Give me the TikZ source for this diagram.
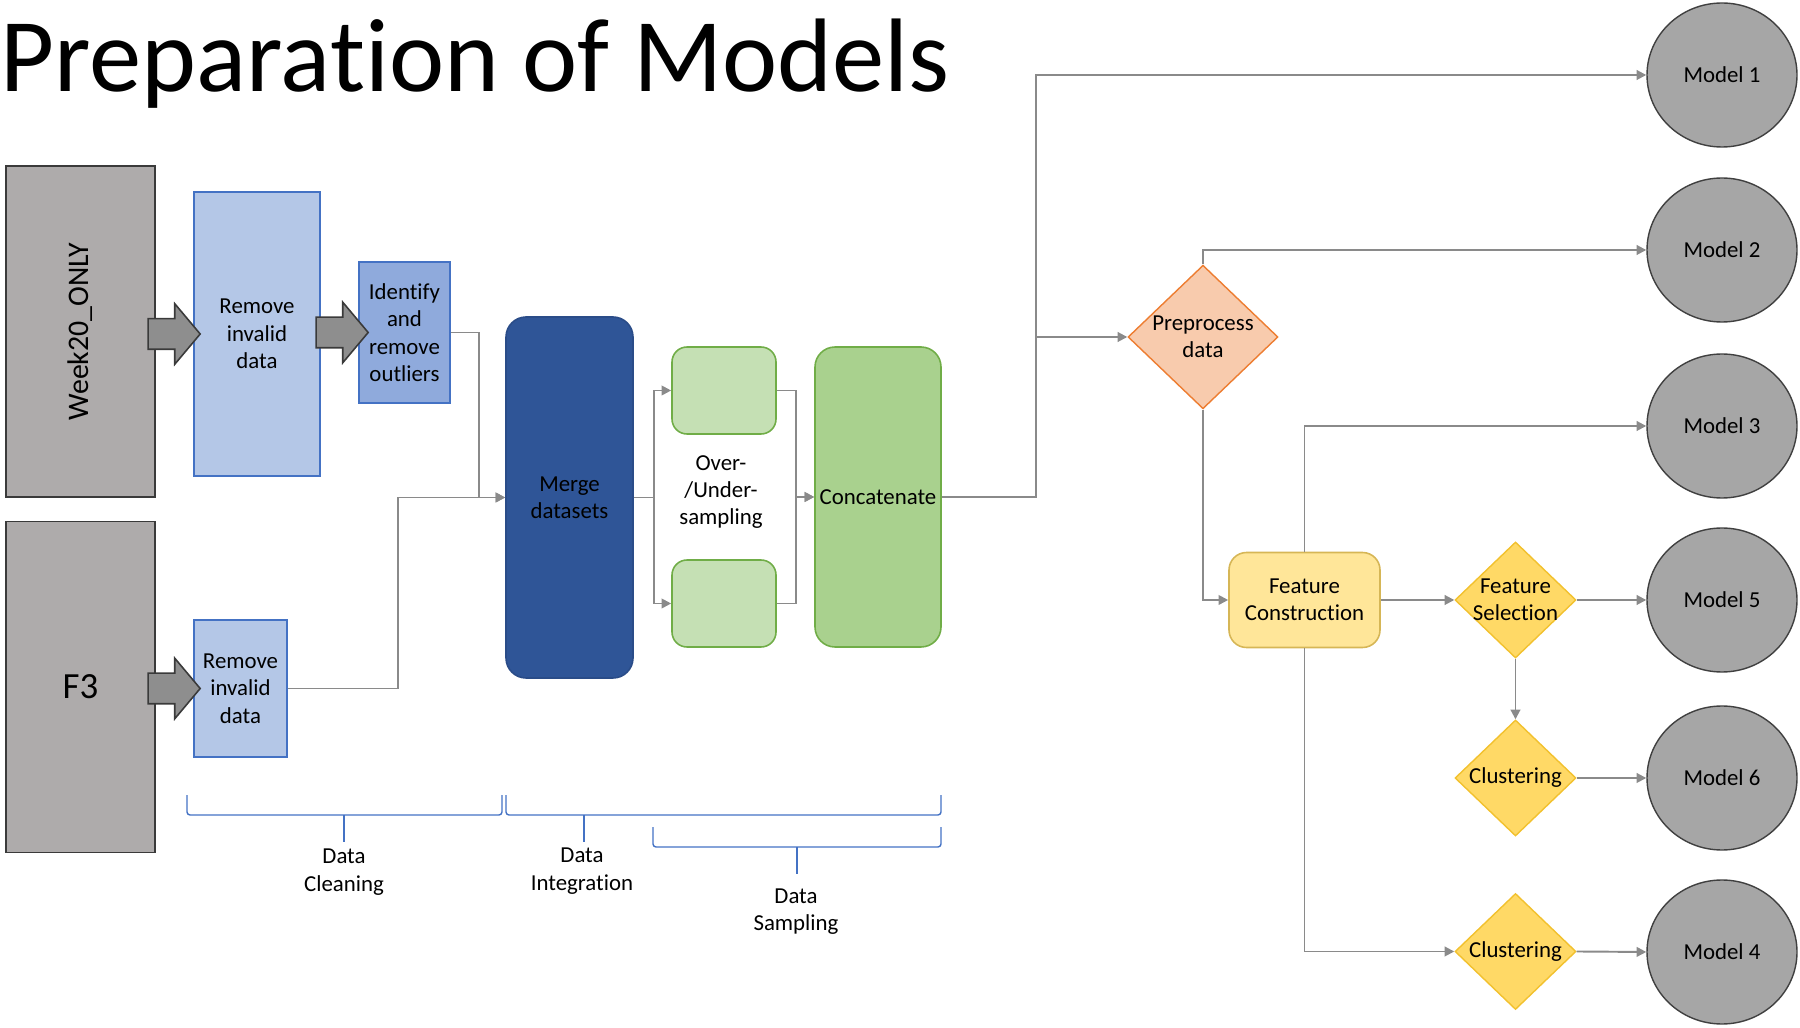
\documentclass[tikz,border=0pt]{standalone}
\usepackage{fontspec}
\setmainfont{Carlito}[Ligatures={NoCommon}]
\usepackage{graphicx}
\usepackage{tikz}
\usetikzlibrary{arrows.meta,shapes.geometric,shapes.arrows}
\definecolor{srcgray}{HTML}{AEABAB}
\definecolor{srcline}{HTML}{3A3A3A}
\definecolor{arrowgray}{HTML}{8E8E8E}
\definecolor{cleanfill}{HTML}{B4C7E7}
\definecolor{outlfill}{HTML}{8FAADC}
\definecolor{bluedraw}{HTML}{4472C4}
\definecolor{mergefill}{HTML}{2F5597}
\definecolor{mergedraw}{HTML}{2A4C88}
\definecolor{sampfill}{HTML}{C5E0B4}
\definecolor{concfill}{HTML}{A9D18E}
\definecolor{greendraw}{HTML}{70AD47}
\definecolor{prepfill}{HTML}{F8CBAD}
\definecolor{prepdraw}{HTML}{ED7D31}
\definecolor{fcfill}{HTML}{FFE699}
\definecolor{fcdraw}{HTML}{D6B656}
\definecolor{fsfill}{HTML}{FFD966}
\definecolor{fsdraw}{HTML}{F2C12E}
\definecolor{modelfill}{HTML}{A6A6A6}
\definecolor{modeldraw}{HTML}{404040}
\definecolor{linegray}{HTML}{8A8A8A}

\begin{document}
\begin{tikzpicture}[scale=0.2]
\tikzstyle{every node}+=[inner sep=0pt,font=\fontsize{13}{15.6}\selectfont,align=center]
\tikzstyle{srcbox}=[draw=srcline,fill=srcgray,line width=0.9pt,minimum width=2.98cm,minimum height=6.62cm,font=\fontsize{17}{20}\selectfont]
\tikzstyle{cleanbox}=[draw=bluedraw,fill=cleanfill,line width=0.9pt]
\tikzstyle{blockarrow}=[single arrow,draw=srcline,fill=arrowgray,line width=0.9pt,minimum height=1.04cm,inner sep=0pt,inner ysep=0.29cm,single arrow head extend=0.3cm,single arrow tip angle=100]
\tikzstyle{roundbox}=[rounded corners=0.4cm,line width=0.9pt]
\tikzstyle{decision}=[diamond,line width=0.8pt,minimum width=2.42cm,minimum height=2.32cm,fill=fsfill,draw=fsdraw]
\tikzstyle{model}=[ellipse,draw=modeldraw,fill=modelfill,line width=0.8pt,minimum width=3cm,minimum height=2.88cm]
\tikzstyle{conn}=[draw=linegray,line width=1.1pt,-{Triangle[length=5.5pt,width=5.5pt]}]
\tikzstyle{stage}=[draw=bluedraw,line width=0.8pt,rounded corners=0.06cm]
\useasboundingbox (0,0) rectangle (180,-102.8);
\node [anchor=base west,font=\fontsize{59.5}{70}\selectfont] (title) at (0,-9.2) {Preparation of Models};
\node [srcbox] (wk) at (8.05,-33.15) {\rotatebox{90}{Week20\_ONLY}};
\node [srcbox,font=\fontsize{21}{25}\selectfont] (f3) at (8.05,-68.7) {F3};
\node [cleanbox,minimum width=2.52cm,minimum height=5.68cm] (rmw) at (25.7,-33.4) {Remove\\invalid\\data};
\node [cleanbox,fill=outlfill,minimum width=1.82cm,minimum height=2.82cm] (outl) at (40.45,-33.25) {Identify\\and\\remove\\outliers};
\node [cleanbox,minimum width=1.86cm,minimum height=2.74cm] (rmf) at (24.05,-68.85) {Remove\\invalid\\data};
\node [blockarrow,anchor=tip] (ar1) at ([xshift=0.8cm]rmw.west) {};
\node [blockarrow,anchor=tip] (ar2) at ([xshift=1.1cm]outl.west) {};
\node [blockarrow,anchor=tip] (ar3) at ([xshift=0.8cm]rmf.west) {};
\node [roundbox,fill=mergefill,draw=mergedraw,minimum width=2.54cm,minimum height=7.22cm] (merge) at (56.95,-49.75) {Merge\\datasets};
\node [roundbox,rounded corners=0.3cm,fill=sampfill,draw=greendraw,minimum width=2.08cm,minimum height=1.74cm] (ovs) at (72.4,-39.05) {};
\node [roundbox,rounded corners=0.3cm,fill=sampfill,draw=greendraw,minimum width=2.08cm,minimum height=1.74cm] (uns) at (72.4,-60.35) {};
\node (samp) at (72.1,-49.2) {Over-\\/Under-\\sampling};
\node [roundbox,fill=concfill,draw=greendraw,minimum width=2.52cm,minimum height=6cm] (conc) at (87.8,-49.7) {Concatenate};
\node [decision,fill=prepfill,draw=prepdraw,minimum width=3cm,minimum height=2.84cm] (prep) at (120.3,-33.7) {Preprocess\\data};
\node [roundbox,rounded corners=0.35cm,fill=fcfill,draw=fcdraw,minimum width=3.02cm,minimum height=1.9cm] (fc) at (130.45,-60) {Feature\\Construction};
\node [decision,label={[align=center]center:Feature\\Selection}] (fs) at (151.55,-60) {};
\node [decision] (cl1) at (151.55,-77.8) {Clustering};
\node [decision] (cl2) at (151.55,-95.15) {Clustering};
\node [model] (m1) at (172.2,-7.5) {Model 1};
\node [model] (m2) at (172.2,-25) {Model 2};
\node [model] (m3) at (172.2,-42.6) {Model 3};
\node [model] (m5) at (172.2,-60) {Model 5};
\node [model] (m6) at (172.2,-77.8) {Model 6};
\node [model] (m4) at (172.2,-95.2) {Model 4};
\draw [conn] (outl.east) -- ++(2.8,0) |- (merge.west);
\draw [conn] (rmf.east) -- ++(11,0) |- (merge.west);
\draw [conn] (merge.east) -- ++(2,0) |- (ovs.west);
\draw [conn] (merge.east) -- ++(2,0) |- (uns.west);
\draw [conn] (ovs.east) -- ++(1.9,0) |- (conc.west);
\draw [conn] (uns.east) -- ++(1.9,0) |- (conc.west);
\draw [conn] (conc.east) -- ++(9.4,0) coordinate (split) |- (m1.west);
\draw [conn] (split) |- (prep.west);
\draw [conn] (prep.north) |- (m2.west);
\draw [conn] (prep.south) |- (fc.west);
\draw [conn] (fc.north) |- (m3.west);
\draw [conn] (fc.east) -- (fs.west);
\draw [conn] (fs.east) -- (m5.west);
\draw [conn] (fs.south) -- (cl1.north);
\draw [conn] (cl1.east) -- (m6.west);
\draw [conn] (fc.south) |- (cl2.west);
\draw [conn] (cl2.east) -- (m4.west);
\draw [stage] (18.7,-79.5) -- (18.7,-81.5) -- (50.2,-81.5) -- (50.2,-79.5);
\draw [stage] (34.4,-81.5) -- (34.4,-84.2);
\draw [stage] (50.6,-79.5) -- (50.6,-81.5) -- (94.1,-81.5) -- (94.1,-79.5);
\draw [stage] (58.4,-81.5) -- (58.4,-84.2);
\draw [stage] (65.3,-82.7) -- (65.3,-84.7) -- (94.1,-84.7) -- (94.1,-82.7);
\draw [stage] (79.7,-84.7) -- (79.7,-87.4);
\node (clean) at (34.4,-87.2) {Data\\Cleaning};
\node (integ) at (58.2,-87.1) {Data\\Integration};
\node (sampl) at (79.6,-91.15) {Data\\Sampling};
\end{tikzpicture}
\end{document}
